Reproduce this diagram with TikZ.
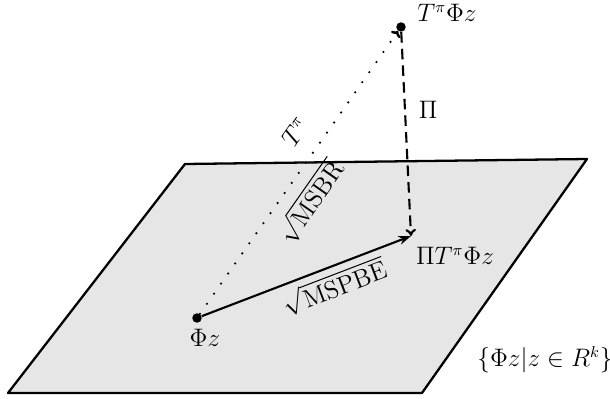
\documentclass[tikz,border=0pt]{standalone}
\usepackage{amsmath}
\usepackage{amssymb}
\usepackage{tikz}
\usetikzlibrary{arrows.meta, positioning}
\definecolor{planegray}{RGB}{230,230,230}

\begin{document}
\begin{tikzpicture}[x=0.02cm, y=-0.02cm, font=\fontsize{13.5}{16}\selectfont,
    pt/.style={circle, fill=black, inner sep=0pt, minimum size=5.4pt},
    dotline/.style={line width=1.4pt, dash pattern=on 0pt off 7pt, line cap=round},
    dashline/.style={line width=1.2pt, dash pattern=on 6pt off 3.5pt},
    solidline/.style={line width=1.2pt}]
    \useasboundingbox (0,0) rectangle (610,399);
    % the plane
    \filldraw[fill=planegray, draw=black, line width=1.3pt, line join=round]
      (8,393) -- (185,164) -- (587,159) -- (422,393) -- cycle;
    \node[pt] (phi) at (197,318) {};
    \node[pt] (tphi) at (401,27) {};
    \coordinate (proj) at (411,236);
    \node (philab) at (205,338) {$\Phi z$};
    \node (tphilab) at (447,13) {$T^\pi\Phi z$};
    \node (projlab) at (455,256) {$\Pi T^\pi\Phi z$};
    \node (setlab) at (545,360) {$\{\Phi z|z\in R^k\}$};
    \draw[dotline, -{To[length=3pt]}] (phi) --
      node[sloped, above, pos=0.59, yshift=6pt] {$T^\pi$}
      node[sloped, below, pos=0.45, yshift=-3pt] {$\sqrt{\mathrm{MSBR}}$} (tphi);
    \draw[dashline, -{To[length=4pt,width=6pt]}] (tphi) --
      node[right, pos=0.38, xshift=4pt] {$\Pi$} (proj);
    \draw[solidline, -{Stealth[length=7pt,width=5pt]}] (phi) --
      node[sloped, below, pos=0.6] {$\sqrt{\mathrm{MSPBE}}$} (proj);
  \end{tikzpicture}
\end{document}
